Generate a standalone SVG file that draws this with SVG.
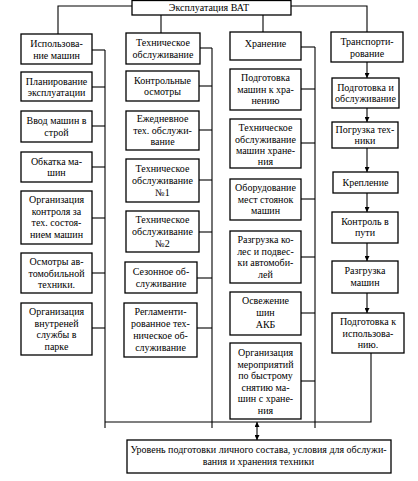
<svg xmlns="http://www.w3.org/2000/svg" width="418" height="481" viewBox="0 0 418 481">
<defs>
<style>
.b{fill:#fff;stroke:#000;stroke-width:1.3}
.t{font-family:"Liberation Serif","Times New Roman",serif;font-size:10px;fill:#000;text-anchor:middle}
.c{fill:none;stroke:#000;stroke-width:1.1}
</style>
<marker id="ah" viewBox="0 0 6 6" refX="6" refY="3" markerWidth="5" markerHeight="5" orient="auto-start-reverse" markerUnits="userSpaceOnUse">
<path d="M0,0 L6,3 L0,6 z" fill="#000"/>
</marker>
</defs>
<rect width="418" height="481" fill="#fff"/>
<g id="connectors" class="c">
<polyline points="132,6 58,6 58,34"/>
<polyline points="291,6 367,6 367,32"/>
<line x1="161" y1="15" x2="161" y2="33"/>
<line x1="263" y1="15" x2="263" y2="32"/>
<line x1="105" y1="50" x2="105" y2="428"/>
<line x1="92" y1="50" x2="105" y2="50"/>
<line x1="92" y1="87" x2="105" y2="87"/>
<line x1="92" y1="126" x2="105" y2="126"/>
<line x1="92" y1="167" x2="105" y2="167"/>
<line x1="92" y1="218" x2="105" y2="218"/>
<line x1="92" y1="273" x2="105" y2="273"/>
<line x1="92" y1="328" x2="105" y2="328"/>
<line x1="212" y1="48" x2="212" y2="428"/>
<line x1="200" y1="48" x2="212" y2="48"/>
<line x1="199" y1="86" x2="212" y2="86"/>
<line x1="199" y1="130" x2="212" y2="130"/>
<line x1="199" y1="180" x2="212" y2="180"/>
<line x1="199" y1="232" x2="212" y2="232"/>
<line x1="197" y1="278" x2="212" y2="278"/>
<line x1="197" y1="328" x2="212" y2="328"/>
<line x1="315" y1="47" x2="315" y2="428"/>
<line x1="301" y1="47" x2="315" y2="47"/>
<line x1="301" y1="89" x2="315" y2="89"/>
<line x1="301" y1="143" x2="315" y2="143"/>
<line x1="301" y1="199" x2="315" y2="199"/>
<line x1="301" y1="257" x2="315" y2="257"/>
<line x1="301" y1="313" x2="315" y2="313"/>
<line x1="301" y1="381" x2="315" y2="381"/>
<line x1="367" y1="62" x2="367" y2="78" marker-end="url(#ah)"/>
<line x1="367" y1="108" x2="367" y2="122" marker-end="url(#ah)"/>
<line x1="367" y1="148" x2="367" y2="172" marker-end="url(#ah)"/>
<line x1="367" y1="193" x2="367" y2="212" marker-end="url(#ah)"/>
<line x1="367" y1="243" x2="367" y2="261" marker-end="url(#ah)"/>
<line x1="367" y1="293" x2="367" y2="313" marker-end="url(#ah)"/>
<polyline points="371,353 371,422 105,422"/>
<line x1="257" y1="422" x2="257" y2="440" marker-start="url(#ah)" marker-end="url(#ah)"/>
</g>
<g id="n-top"><rect class="b" x="132" y="0.5" width="159" height="14.5"/><text class="t" x="209" y="11">Эксплуатация ВАТ</text></g>
<g id="n-c1h"><rect class="b" x="21" y="34" width="71" height="30"/><text class="t" x="56.5" y="47">Использова-</text><text class="t" x="56.5" y="58.5">ние машин</text></g>
<g id="n-c1a"><rect class="b" x="21" y="72" width="71" height="29"/><text class="t" x="56.5" y="84.5">Планирование</text><text class="t" x="56.5" y="96">эксплуатации</text></g>
<g id="n-c1b"><rect class="b" x="21" y="111" width="71" height="31"/><text class="t" x="56.5" y="124">Ввод машин в</text><text class="t" x="56.5" y="135.5">строй</text></g>
<g id="n-c1c"><rect class="b" x="21" y="152" width="71" height="30"/><text class="t" x="56.5" y="164.5">Обкатка ма-</text><text class="t" x="56.5" y="176">шин</text></g>
<g id="n-c1d"><rect class="b" x="21" y="191" width="71" height="53"/><text class="t" x="56.5" y="203">Организация</text><text class="t" x="56.5" y="214.5">контроля за</text><text class="t" x="56.5" y="226">тех. состоя-</text><text class="t" x="56.5" y="237.5">нием машин</text></g>
<g id="n-c1e"><rect class="b" x="21" y="253" width="71" height="40"/><text class="t" x="56.5" y="265">Осмотры ав-</text><text class="t" x="56.5" y="276.5">томобильной</text><text class="t" x="56.5" y="288">техники.</text></g>
<g id="n-c1f"><rect class="b" x="21" y="303" width="71" height="52"/><text class="t" x="56.5" y="315">Организация</text><text class="t" x="56.5" y="326.5">внутреней</text><text class="t" x="56.5" y="338">службы в</text><text class="t" x="56.5" y="349.5">парке</text></g>
<g id="n-c2h"><rect class="b" x="126" y="33" width="74" height="31"/><text class="t" x="163" y="46">Техническое</text><text class="t" x="163" y="57.5">обслуживание</text></g>
<g id="n-c2a"><rect class="b" x="126" y="71" width="73" height="30"/><text class="t" x="162.5" y="83.5">Контрольные</text><text class="t" x="162.5" y="95">осмотры</text></g>
<g id="n-c2b"><rect class="b" x="126" y="111" width="73" height="39"/><text class="t" x="162.5" y="122">Ежедневное</text><text class="t" x="162.5" y="133.5">тех. обслужи-</text><text class="t" x="162.5" y="145">вание</text></g>
<g id="n-c2c"><rect class="b" x="126" y="159" width="73" height="43"/><text class="t" x="162.5" y="172">Техническое</text><text class="t" x="162.5" y="184">обслуживание</text><text class="t" x="162.5" y="196">№1</text></g>
<g id="n-c2d"><rect class="b" x="126" y="211" width="73" height="41"/><text class="t" x="162.5" y="223">Техническое</text><text class="t" x="162.5" y="235">обслуживание</text><text class="t" x="162.5" y="247">№2</text></g>
<g id="n-c2e"><rect class="b" x="125" y="262" width="72" height="31"/><text class="t" x="161" y="275">Сезонное об-</text><text class="t" x="161" y="286.5">служивание</text></g>
<g id="n-c2f"><rect class="b" x="124" y="303" width="73" height="54"/><text class="t" x="160.5" y="315">Регламенти-</text><text class="t" x="160.5" y="327">рованное тех-</text><text class="t" x="160.5" y="339">ническое об-</text><text class="t" x="160.5" y="351">служивание</text></g>
<g id="n-c3h"><rect class="b" x="230" y="32" width="71" height="28"/><text class="t" x="265.5" y="47">Хранение</text></g>
<g id="n-c3a"><rect class="b" x="230" y="69" width="71" height="41"/><text class="t" x="265.5" y="81">Подготовка</text><text class="t" x="265.5" y="92.5">машин к хра-</text><text class="t" x="265.5" y="104">нению</text></g>
<g id="n-c3b"><rect class="b" x="230" y="119" width="71" height="49"/><text class="t" x="265.5" y="131">Техническое</text><text class="t" x="265.5" y="142.5">обслуживание</text><text class="t" x="265.5" y="154">машин хране-</text><text class="t" x="265.5" y="165">ния</text></g>
<g id="n-c3c"><rect class="b" x="230" y="179" width="71" height="41"/><text class="t" x="265.5" y="191">Оборудование</text><text class="t" x="265.5" y="202.5">мест стоянок</text><text class="t" x="265.5" y="214">машин</text></g>
<g id="n-c3d"><rect class="b" x="230" y="231" width="71" height="52"/><text class="t" x="265.5" y="243">Разгрузка ко-</text><text class="t" x="265.5" y="254.5">лес и подвес-</text><text class="t" x="265.5" y="266">ки автомоби-</text><text class="t" x="265.5" y="277.5">лей</text></g>
<g id="n-c3e"><rect class="b" x="230" y="292" width="71" height="43"/><text class="t" x="265.5" y="304">Освежение</text><text class="t" x="265.5" y="315.5">шин</text><text class="t" x="265.5" y="328">АКБ</text></g>
<g id="n-c3f"><rect class="b" x="230" y="343" width="71" height="76"/><text class="t" x="265.5" y="356">Организация</text><text class="t" x="265.5" y="367.5">мероприятий</text><text class="t" x="265.5" y="379">по быстрому</text><text class="t" x="265.5" y="390.5">снятию ма-</text><text class="t" x="265.5" y="402">шин с хране-</text><text class="t" x="265.5" y="413.5">ния</text></g>
<g id="n-c4h"><rect class="b" x="331" y="32" width="72" height="30"/><text class="t" x="367" y="45">Транспорти-</text><text class="t" x="367" y="56.5">рование</text></g>
<g id="n-c4a"><rect class="b" x="332" y="78" width="67" height="30"/><text class="t" x="365.5" y="90.5">Подготовка и</text><text class="t" x="365.5" y="102">обслуживание</text></g>
<g id="n-c4b"><rect class="b" x="332" y="122" width="66" height="26"/><text class="t" x="365" y="133">Погрузка тех-</text><text class="t" x="365" y="144">ники</text></g>
<g id="n-c4c"><rect class="b" x="333" y="172" width="65" height="21"/><text class="t" x="365.5" y="186">Крепление</text></g>
<g id="n-c4d"><rect class="b" x="332" y="212" width="66" height="31"/><text class="t" x="365" y="224.5">Контроль в</text><text class="t" x="365" y="236">пути</text></g>
<g id="n-c4e"><rect class="b" x="332" y="261" width="66" height="32"/><text class="t" x="365" y="274">Разгрузка</text><text class="t" x="365" y="285.5">машин</text></g>
<g id="n-c4f"><rect class="b" x="332" y="313" width="72" height="40"/><text class="t" x="368" y="325">Подготовка к</text><text class="t" x="368" y="336.5">использова-</text><text class="t" x="368" y="348">нию.</text></g>
<g id="n-bottom"><rect class="b" x="127" y="440" width="264" height="33"/><text class="t" x="258.5" y="453">Уровень подготовки личного состава, условия для обслужи-</text><text class="t" x="258.5" y="465">вания и хранения техники</text></g>
</svg>
